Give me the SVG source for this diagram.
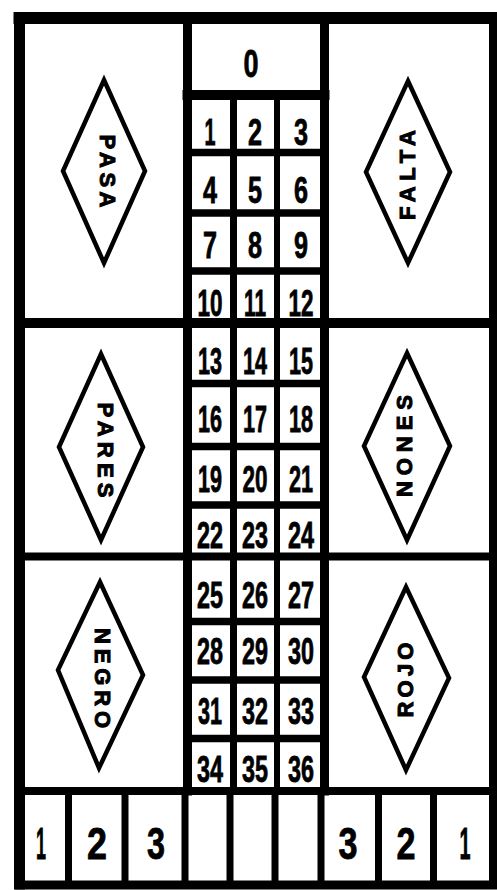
<svg xmlns="http://www.w3.org/2000/svg" width="497" height="890" viewBox="0 0 497 890">
<style>
.ln{stroke:#000;fill:none;stroke-linecap:square}
.num{font-family:"Liberation Sans Narrow","Liberation Sans",Arial,sans-serif;font-weight:bold;font-size:36px;text-anchor:middle;fill:#000;stroke:#000;stroke-width:0.8}
.big{font-size:44px}
.zero{font-size:38px}
.dia{fill:#fff;stroke:#000;stroke-width:4.5;stroke-linejoin:miter}
.lbl{font-family:"Liberation Sans",Arial,sans-serif;font-weight:bold;font-size:22px;text-anchor:middle;dominant-baseline:central;fill:#000;stroke:#000;stroke-width:1}
</style>
<rect width="497" height="890" fill="#fff"/>
<g id="connectors">
  <line class="ln" x1="19.5" y1="18" x2="19.5" y2="884" stroke-width="11"/>
  <line class="ln" x1="493" y1="18" x2="493" y2="884" stroke-width="8"/>
  <line class="ln" x1="19.5" y1="18" x2="493" y2="18" stroke-width="12"/>
  <line class="ln" x1="19.5" y1="885" x2="493" y2="885" stroke-width="9"/>
  <line class="ln" x1="187.5" y1="18" x2="187.5" y2="791" stroke-width="9"/>
  <line class="ln" x1="324.5" y1="18" x2="324.5" y2="791" stroke-width="9"/>
  <line class="ln" x1="19.5" y1="323" x2="493" y2="323" stroke-width="10"/>
  <line class="ln" x1="19.5" y1="556.5" x2="493" y2="556.5" stroke-width="8"/>
  <line class="ln" x1="19.5" y1="791" x2="493" y2="791" stroke-width="8"/>
  <line class="ln" x1="187.5" y1="95" x2="324.5" y2="95" stroke-width="10"/>
  <line class="ln" x1="233.5" y1="95" x2="233.5" y2="791" stroke-width="7"/>
  <line class="ln" x1="277" y1="95" x2="277" y2="791" stroke-width="6"/>
  <g stroke-width="7.5">
    <line class="ln" x1="187.5" y1="152.5" x2="324.5" y2="152.5"/>
    <line class="ln" x1="187.5" y1="213" x2="324.5" y2="213"/>
    <line class="ln" x1="187.5" y1="271" x2="324.5" y2="271"/>
    <line class="ln" x1="187.5" y1="383.5" x2="324.5" y2="383.5"/>
    <line class="ln" x1="187.5" y1="446.5" x2="324.5" y2="446.5"/>
    <line class="ln" x1="187.5" y1="505" x2="324.5" y2="505"/>
    <line class="ln" x1="187.5" y1="621.5" x2="324.5" y2="621.5"/>
    <line class="ln" x1="187.5" y1="680" x2="324.5" y2="680"/>
    <line class="ln" x1="187.5" y1="738.5" x2="324.5" y2="738.5"/>
  </g>
  <g stroke-width="7">
    <line class="ln" x1="68.5" y1="791" x2="68.5" y2="885"/>
    <line class="ln" x1="125" y1="791" x2="125" y2="885"/>
    <line class="ln" x1="185" y1="791" x2="185" y2="885"/>
    <line class="ln" x1="230" y1="791" x2="230" y2="885"/>
    <line class="ln" x1="275" y1="791" x2="275" y2="885"/>
    <line class="ln" x1="321" y1="791" x2="321" y2="885"/>
    <line class="ln" x1="378.5" y1="791" x2="378.5" y2="885"/>
    <line class="ln" x1="433.5" y1="791" x2="433.5" y2="885"/>
  </g>
</g>

<g id="diamond-pasa">
  <polygon class="dia" points="104,80 145,171 104,263 63,171"/>
  <text class="lbl" transform="translate(107,171) rotate(90)" textLength="73">PASA</text>
</g>
<g id="diamond-falta">
  <polygon class="dia" points="408,81 450,172 408,263 366,172"/>
  <text class="lbl" transform="translate(407,175) rotate(-90)" textLength="90">FALTA</text>
</g>
<g id="diamond-pares">
  <polygon class="dia" points="101,354 143,447 101,540 59,447"/>
  <text class="lbl" transform="translate(105,450) rotate(90)" textLength="95">PARES</text>
</g>
<g id="diamond-nones">
  <polygon class="dia" points="407,353 450,446 407,540 364,446"/>
  <text class="lbl" transform="translate(404,446) rotate(-90)" textLength="102">NONES</text>
</g>
<g id="diamond-negro">
  <polygon class="dia" points="100,582 143,675 99,768 58,670"/>
  <text class="lbl" transform="translate(102,678) rotate(90)" textLength="100">NEGRO</text>
</g>
<g id="diamond-rojo">
  <polygon class="dia" points="406,587 449,678 406,770 364,677"/>
  <text class="lbl" transform="translate(405,680) rotate(-90)" textLength="75">ROJO</text>
</g>

<g id="zero"><text class="num zero" x="251" y="77" textLength="15" lengthAdjust="spacingAndGlyphs">0</text></g>

<g id="numbers">
  <g id="n1"><text class="num" x="210" y="145" textLength="11" lengthAdjust="spacingAndGlyphs">1</text></g>
  <g id="n2"><text class="num" x="255" y="145" textLength="14" lengthAdjust="spacingAndGlyphs">2</text></g>
  <g id="n3"><text class="num" x="301" y="145" textLength="14" lengthAdjust="spacingAndGlyphs">3</text></g>
  <g id="n4"><text class="num" x="210" y="203" textLength="14" lengthAdjust="spacingAndGlyphs">4</text></g>
  <g id="n5"><text class="num" x="255" y="203" textLength="14" lengthAdjust="spacingAndGlyphs">5</text></g>
  <g id="n6"><text class="num" x="301" y="203" textLength="14" lengthAdjust="spacingAndGlyphs">6</text></g>
  <g id="n7"><text class="num" x="210" y="258" textLength="14" lengthAdjust="spacingAndGlyphs">7</text></g>
  <g id="n8"><text class="num" x="255" y="258" textLength="14" lengthAdjust="spacingAndGlyphs">8</text></g>
  <g id="n9"><text class="num" x="301" y="258" textLength="14" lengthAdjust="spacingAndGlyphs">9</text></g>
  <g id="n10"><text class="num" x="210" y="316" textLength="25" lengthAdjust="spacingAndGlyphs">10</text></g>
  <g id="n11"><text class="num" x="255" y="316" textLength="22" lengthAdjust="spacingAndGlyphs">11</text></g>
  <g id="n12"><text class="num" x="301" y="316" textLength="25" lengthAdjust="spacingAndGlyphs">12</text></g>
  <g id="n13"><text class="num" x="210" y="374" textLength="24" lengthAdjust="spacingAndGlyphs">13</text></g>
  <g id="n14"><text class="num" x="255" y="374" textLength="24" lengthAdjust="spacingAndGlyphs">14</text></g>
  <g id="n15"><text class="num" x="301" y="374" textLength="24" lengthAdjust="spacingAndGlyphs">15</text></g>
  <g id="n16"><text class="num" x="210" y="432" textLength="24" lengthAdjust="spacingAndGlyphs">16</text></g>
  <g id="n17"><text class="num" x="255" y="432" textLength="24" lengthAdjust="spacingAndGlyphs">17</text></g>
  <g id="n18"><text class="num" x="301" y="432" textLength="24" lengthAdjust="spacingAndGlyphs">18</text></g>
  <g id="n19"><text class="num" x="210" y="492" textLength="24" lengthAdjust="spacingAndGlyphs">19</text></g>
  <g id="n20"><text class="num" x="255" y="492" textLength="25" lengthAdjust="spacingAndGlyphs">20</text></g>
  <g id="n21"><text class="num" x="301" y="492" textLength="24" lengthAdjust="spacingAndGlyphs">21</text></g>
  <g id="n22"><text class="num" x="210" y="548" textLength="26" lengthAdjust="spacingAndGlyphs">22</text></g>
  <g id="n23"><text class="num" x="255" y="548" textLength="26" lengthAdjust="spacingAndGlyphs">23</text></g>
  <g id="n24"><text class="num" x="301" y="548" textLength="26" lengthAdjust="spacingAndGlyphs">24</text></g>
  <g id="n25"><text class="num" x="210" y="608" textLength="26" lengthAdjust="spacingAndGlyphs">25</text></g>
  <g id="n26"><text class="num" x="255" y="608" textLength="26" lengthAdjust="spacingAndGlyphs">26</text></g>
  <g id="n27"><text class="num" x="301" y="608" textLength="26" lengthAdjust="spacingAndGlyphs">27</text></g>
  <g id="n28"><text class="num" x="210" y="664" textLength="26" lengthAdjust="spacingAndGlyphs">28</text></g>
  <g id="n29"><text class="num" x="255" y="664" textLength="26" lengthAdjust="spacingAndGlyphs">29</text></g>
  <g id="n30"><text class="num" x="301" y="664" textLength="26" lengthAdjust="spacingAndGlyphs">30</text></g>
  <g id="n31"><text class="num" x="210" y="724" textLength="24" lengthAdjust="spacingAndGlyphs">31</text></g>
  <g id="n32"><text class="num" x="255" y="724" textLength="26" lengthAdjust="spacingAndGlyphs">32</text></g>
  <g id="n33"><text class="num" x="301" y="724" textLength="26" lengthAdjust="spacingAndGlyphs">33</text></g>
  <g id="n34"><text class="num" x="210" y="782" textLength="26" lengthAdjust="spacingAndGlyphs">34</text></g>
  <g id="n35"><text class="num" x="255" y="782" textLength="26" lengthAdjust="spacingAndGlyphs">35</text></g>
  <g id="n36"><text class="num" x="301" y="782" textLength="26" lengthAdjust="spacingAndGlyphs">36</text></g>
</g>

<g id="dozens-left">
  <text class="num big" x="41" y="859" textLength="10" lengthAdjust="spacingAndGlyphs">1</text>
  <text class="num big" x="97" y="859" textLength="20" lengthAdjust="spacingAndGlyphs">2</text>
  <text class="num big" x="156" y="859" textLength="18" lengthAdjust="spacingAndGlyphs">3</text>
</g>
<g id="dozens-right">
  <text class="num big" x="348" y="859" textLength="19" lengthAdjust="spacingAndGlyphs">3</text>
  <text class="num big" x="406" y="859" textLength="19" lengthAdjust="spacingAndGlyphs">2</text>
  <text class="num big" x="465" y="859" textLength="11" lengthAdjust="spacingAndGlyphs">1</text>
</g>
</svg>
